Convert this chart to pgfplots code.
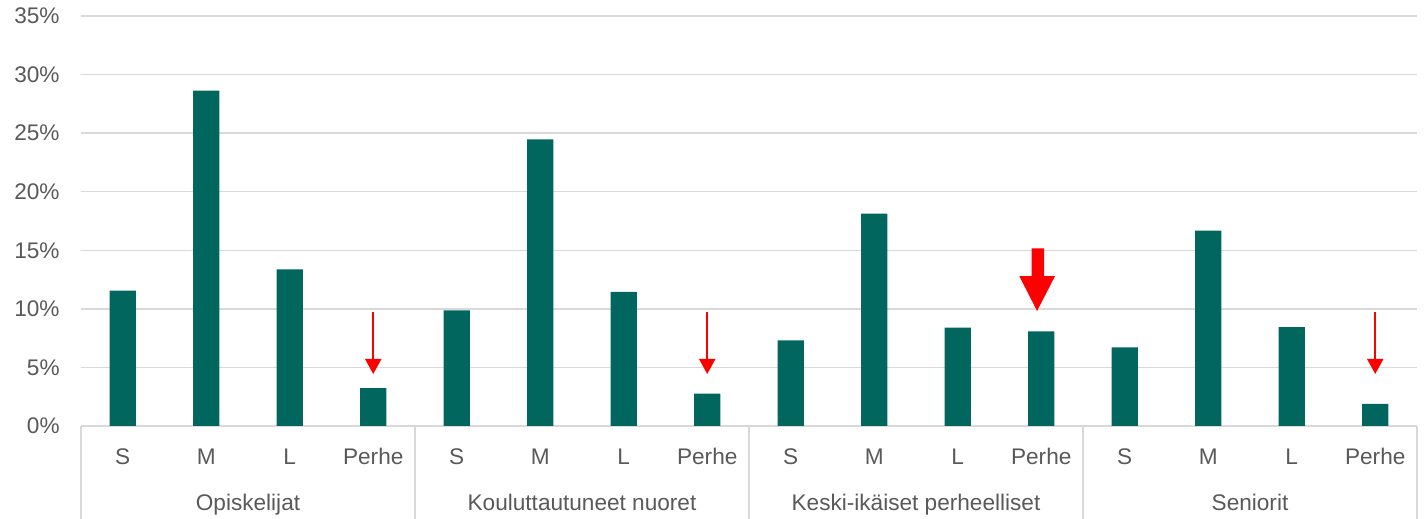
\documentclass[border=0pt]{standalone}
\usepackage{fontspec}
\setmainfont{Liberation Sans}
\usepackage{pgfplots}
\pgfplotsset{compat=1.18}
\usetikzlibrary{arrows.meta}
\definecolor{barc}{HTML}{00665E}
\definecolor{gridc}{HTML}{D9D9D9}
\definecolor{txt}{HTML}{595959}
\begin{document}
\begin{tikzpicture}
\begin{axis}[
  width=668pt, height=205pt, scale only axis,
  xmin=-0.5, xmax=15.5, ymin=0, ymax=35,
  ybar, bar width=13.2pt,
  xtick={0,...,15},
  xticklabels={S,M,L,Perhe,S,M,L,Perhe,S,M,L,Perhe,S,M,L,Perhe},
  ytick={0,5,10,15,20,25,30,35},
  yticklabels={0\%,5\%,10\%,15\%,20\%,25\%,30\%,35\%},
  ymajorgrids, grid style={gridc, line width=0.75pt},
  major tick length=0pt,
  axis line style={draw=none},
  tick label style={font=\fontsize{11.3}{13}\selectfont, text=txt},
  xticklabel style={anchor=base, inner sep=0pt, yshift=-19.5pt},
  yticklabel style={anchor=east, inner sep=0pt, xshift=-10.5pt},
  clip=false,
]
\addplot[fill=barc, draw=none] coordinates {
  (0,11.55) (1,28.63) (2,13.37) (3,3.24)
  (4,9.87) (5,24.47) (6,11.44) (7,2.76)
  (8,7.31) (9,18.13) (10,8.39) (11,8.08)
  (12,6.71) (13,16.67) (14,8.45) (15,1.88)
};
\pgfplotsinvokeforeach{-0.5,3.5,7.5,11.5,15.5}{
  \draw[gridc, line width=0.75pt] (axis cs:#1,0) -- ([yshift=-47pt]axis cs:#1,0);
}
\node[anchor=base, inner sep=0pt, font=\fontsize{11.3}{13}\selectfont, text=txt] at ([yshift=-42.5pt]axis cs:1.5,0) {Opiskelijat};
\node[anchor=base, inner sep=0pt, font=\fontsize{11.3}{13}\selectfont, text=txt] at ([yshift=-42.5pt]axis cs:5.5,0) {Kouluttautuneet nuoret};
\node[anchor=base, inner sep=0pt, font=\fontsize{11.3}{13}\selectfont, text=txt] at ([yshift=-42.5pt]axis cs:9.5,0) {Keski-ikäiset perheelliset};
\node[anchor=base, inner sep=0pt, font=\fontsize{11.3}{13}\selectfont, text=txt] at ([yshift=-42.5pt]axis cs:13.5,0) {Seniorit};
\pgfplotsinvokeforeach{3,7,15}{
  \draw[red, line width=1pt, -{Triangle[length=7.5pt,width=8pt]}] (axis cs:#1,9.73) -- (axis cs:#1,4.44);
}
\fill[red] (axis cs:10.885,15.17) -- (axis cs:11.033,15.17) -- (axis cs:11.033,12.8) -- (axis cs:11.165,12.8) -- (axis cs:10.95,9.82) -- (axis cs:10.737,12.8) -- (axis cs:10.885,12.8) -- cycle;
\end{axis}
\pgfresetboundingbox
\useasboundingbox (-40.5pt,-46.5pt) rectangle (672pt,213pt);
\end{tikzpicture}
\end{document}
